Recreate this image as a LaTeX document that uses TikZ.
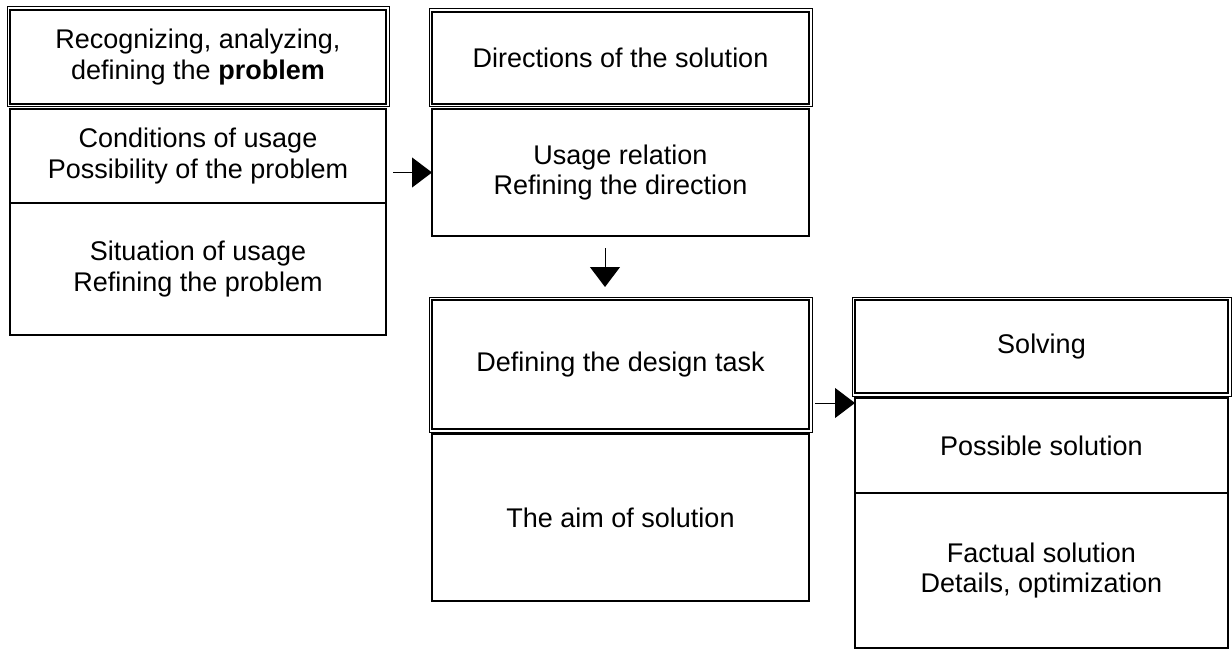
\documentclass[tikz,border=0pt]{standalone}
\usepackage{fontspec}
\setmainfont{Liberation Sans}
\usetikzlibrary{arrows.meta}
\begin{document}
\begin{tikzpicture}[x=1pt,y=-1pt,
  box/.style={draw, line width=2.4pt, rectangle, inner sep=0pt, outer sep=0pt,
    align=center, font=\fontsize{27}{30.5}\selectfont},
  outerline/.style={line width=1pt},
  arr/.style={line width=1pt, -{Triangle[length=20pt,width=30pt]}}]
\useasboundingbox (0,0) rectangle (1232,650);
% column 1
\node[box, minimum width=376pt, minimum height=94pt] (A1) at (198,57) {Recognizing, analyzing,\\defining the \textbf{problem}};
\node[box, minimum width=376pt, minimum height=94pt] (A2) at (198,156) {Conditions of usage\\Possibility of the problem};
\node[box, minimum width=376pt, minimum height=132pt] (A3) at (198,269) {Situation of usage\\Refining the problem};
% column 2
\node[box, minimum width=377pt, minimum height=92pt] (B1) at (620.5,58) {Directions of the solution};
\node[box, minimum width=377pt, minimum height=127pt] (B2) at (620.5,172.5) {Usage relation\\Refining the direction};
\node[box, minimum width=377pt, minimum height=129pt] (C1) at (620.5,364.5) {Defining the design task};
\node[box, minimum width=377pt, minimum height=167pt] (C2) at (620.5,517.5) {The aim of solution};
% column 3
\node[box, minimum width=373pt, minimum height=93pt] (D1) at (1041.5,346.5) {Solving};
\node[box, minimum width=373pt, minimum height=95pt] (D2) at (1041.5,445.5) {Possible solution};
\node[box, minimum width=373pt, minimum height=155pt] (D3) at (1041.5,570.5) {Factual solution\\Details, optimization};
% double borders
\foreach \n in {A1,B1,C1,D1}
  \draw[outerline] ([xshift=-3pt,yshift=3pt]\n.north west) rectangle ([xshift=3pt,yshift=-3pt]\n.south east);
% connectors
\draw[arr] ([xshift=7pt]B2.west -| A2.east) -- (B2.west);
\draw[arr] ([xshift=-15.5pt,yshift=-12pt]B2.south) -- ([xshift=-15.5pt,yshift=13pt]C1.north);
\coordinate (t2) at ([yshift=-5pt]D2.north west);
\draw[arr] ([xshift=6pt]t2 -| C1.east) -- (t2);
\end{tikzpicture}
\end{document}
